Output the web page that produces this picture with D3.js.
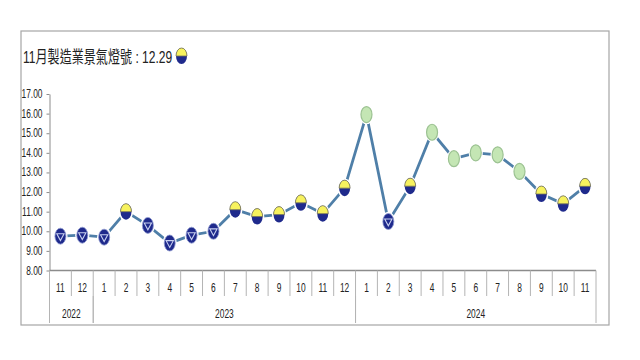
<!DOCTYPE html>
<html>
<head>
<meta charset="utf-8">
<script src="https://cdn.jsdelivr.net/npm/d3@7"></script>
<style>
    html, body { margin: 0; padding: 0; background: #fff; }
    svg { display: block; }
    text { font-family: "Liberation Sans", "Noto Sans CJK TC", sans-serif; fill: #222; }
</style>
</head>
<body>
<script>
// chart data
var months = ['11', '12', '1', '2', '3', '4', '5', '6', '7', '8', '9', '10', '11', '12',
              '1', '2', '3', '4', '5', '6', '7', '8', '9', '10', '11'];
var values = [9.75, 9.8, 9.7, 11.0, 10.3, 9.4, 9.8, 10.0, 11.1, 10.75, 10.85, 11.45, 10.9, 12.2,
              15.95, 10.5, 12.3, 15.05, 13.7, 14.0, 13.9, 13.05, 11.9, 11.4, 12.29];
var signals = ['blue', 'blue', 'blue', 'half', 'blue', 'blue', 'blue', 'blue', 'half', 'half', 'half', 'half', 'half', 'half',
               'green', 'blue', 'half', 'green', 'green', 'green', 'green', 'green', 'half', 'half', 'half'];
var years = ['2022', '2023', '2024'];
var yearCounts = [2, 12, 11];
var yTicks = [8, 9, 10, 11, 12, 13, 14, 15, 16, 17];
var titleText = '11月製造業景氣燈號 : 12.29';

var width = 640,
    height = 360,
    axisColor = '#8c8c8c',
    sepColor = '#b4b4b4',
    lineColor = '#4f7fa8',
    navy = '#1f2a8c',
    yellow = '#f7f25e',
    green = '#c4e6b4',
    greenEdge = '#9cc292';

var svg = d3.select('body').append('svg')
    .attr('width', width)
    .attr('height', height);

// outer frame
svg.append('rect')
    .attr('x', 21).attr('y', 31)
    .attr('width', 588).attr('height', 294)
    .style('fill', '#fff')
    .style('stroke', '#a6a6a6')
    .style('stroke-width', 1.2);

var xScale = d3.scaleBand()
    .domain(d3.range(months.length))
    .range([49.5, 596]);

var yScale = d3.scaleLinear()
    .domain([8, 17])
    .range([270.5, 94]);

// squeezed text, the source image is narrow
var squeezed = function(sel, x, y, size, anchor, str, sx) {
    return sel.append('text')
        .attr('transform', 'translate(' + x + ',' + y + ') scale(' + sx + ',1)')
        .style('font-size', size)
        .style('text-anchor', anchor)
        .text(str);
};

// y axis
var yAxis = d3.axisLeft(yScale)
    .tickValues(yTicks)
    .tickSize(3)
    .tickSizeOuter(0)
    .tickFormat(d3.format('.2f'));

var yG = svg.append('g')
    .attr('transform', 'translate(49.5,0)')
    .call(yAxis);
yG.selectAll('path, line').style('stroke', axisColor);
yG.selectAll('text').remove();

yTicks.forEach(function(t) {
    squeezed(svg, 42.5, yScale(t) + 4, '12px', 'end', d3.format('.2f')(t), 0.7);
});

// x axis, ticks sit on the band edges
svg.append('line')
    .attr('x1', 49.5).attr('x2', 596)
    .attr('y1', 270.5).attr('y2', 270.5)
    .style('stroke', axisColor)
    .style('stroke-width', 1.4);

svg.selectAll('.monthTick')
    .data(d3.range(months.length + 1))
    .enter()
    .append('line')
    .attr('x1', function(d) { return 49.5 + d * xScale.step(); })
    .attr('x2', function(d) { return 49.5 + d * xScale.step(); })
    .attr('y1', 270.5)
    .attr('y2', 296)
    .style('stroke', sepColor);

months.forEach(function(m, i) {
    squeezed(svg, xScale(i) + xScale.bandwidth() / 2, 292, '12px', 'middle', m, 0.7);
});

// year groups
var start = 0;
years.forEach(function(y, i) {
    var x0 = 49.5 + start * xScale.step(),
        x1 = 49.5 + (start + yearCounts[i]) * xScale.step();
    svg.append('line')
        .attr('x1', x0).attr('x2', x0)
        .attr('y1', 296).attr('y2', 323)
        .style('stroke', sepColor);
    svg.append('line')
        .attr('x1', x1).attr('x2', x1)
        .attr('y1', 296).attr('y2', 323)
        .style('stroke', sepColor);
    squeezed(svg, (x0 + x1) / 2, 318, '12px', 'middle', y, 0.7);
    start += yearCounts[i];
});

// series line
var linePath = d3.line()
    .x(function(d, i) { return xScale(i) + xScale.bandwidth() / 2; })
    .y(function(d) { return yScale(d); });

svg.append('path')
    .attr('d', linePath(values))
    .style('fill', 'none')
    .style('stroke', lineColor)
    .style('stroke-width', 2.8);

// signal marker, rx/ry give the tall oval of the source
var drawSignal = function(kind, cx, cy, rx, ry) {
    var g = svg.append('g')
        .attr('transform', 'translate(' + cx + ',' + cy + ')');

    // white gap between line and marker
    g.append('ellipse')
        .attr('rx', rx + 1.6).attr('ry', ry + 1.6)
        .style('fill', '#fff');

    if (kind === 'green') {
        g.append('ellipse')
            .attr('rx', rx).attr('ry', ry)
            .style('fill', green)
            .style('stroke', greenEdge)
            .style('stroke-width', 1.2);
    } else if (kind === 'half') {
        g.append('ellipse')
            .attr('rx', rx).attr('ry', ry)
            .style('fill', navy);
        var top = 'M' + (-rx) + ',0A' + rx + ',' + ry + ' 0 0 1 ' + rx + ',0Z';
        g.append('path')
            .attr('d', top)
            .style('fill', yellow)
            .style('stroke', '#77755a')
            .style('stroke-width', 0.8);
    } else {
        g.append('ellipse')
            .attr('rx', rx).attr('ry', ry)
            .style('fill', navy)
            .style('stroke', '#8f9ad0')
            .style('stroke-width', 0.8);
        g.append('path')
            .attr('d', d3.line()([[-rx * 0.66, -ry * 0.3], [rx * 0.66, -ry * 0.3], [0, ry * 0.55]]) + 'Z')
            .style('fill', 'none')
            .style('stroke', '#c8d0f0')
            .style('stroke-width', 1.1);
    }
};

values.forEach(function(v, i) {
    drawSignal(signals[i], xScale(i) + xScale.bandwidth() / 2, yScale(v), 5.5, 8);
});

// title
squeezed(svg, 23, 62.5, '17px', 'start', titleText, 0.71);
drawSignal('half', 181.5, 56, 5.5, 8);
</script>
</body>
</html>
